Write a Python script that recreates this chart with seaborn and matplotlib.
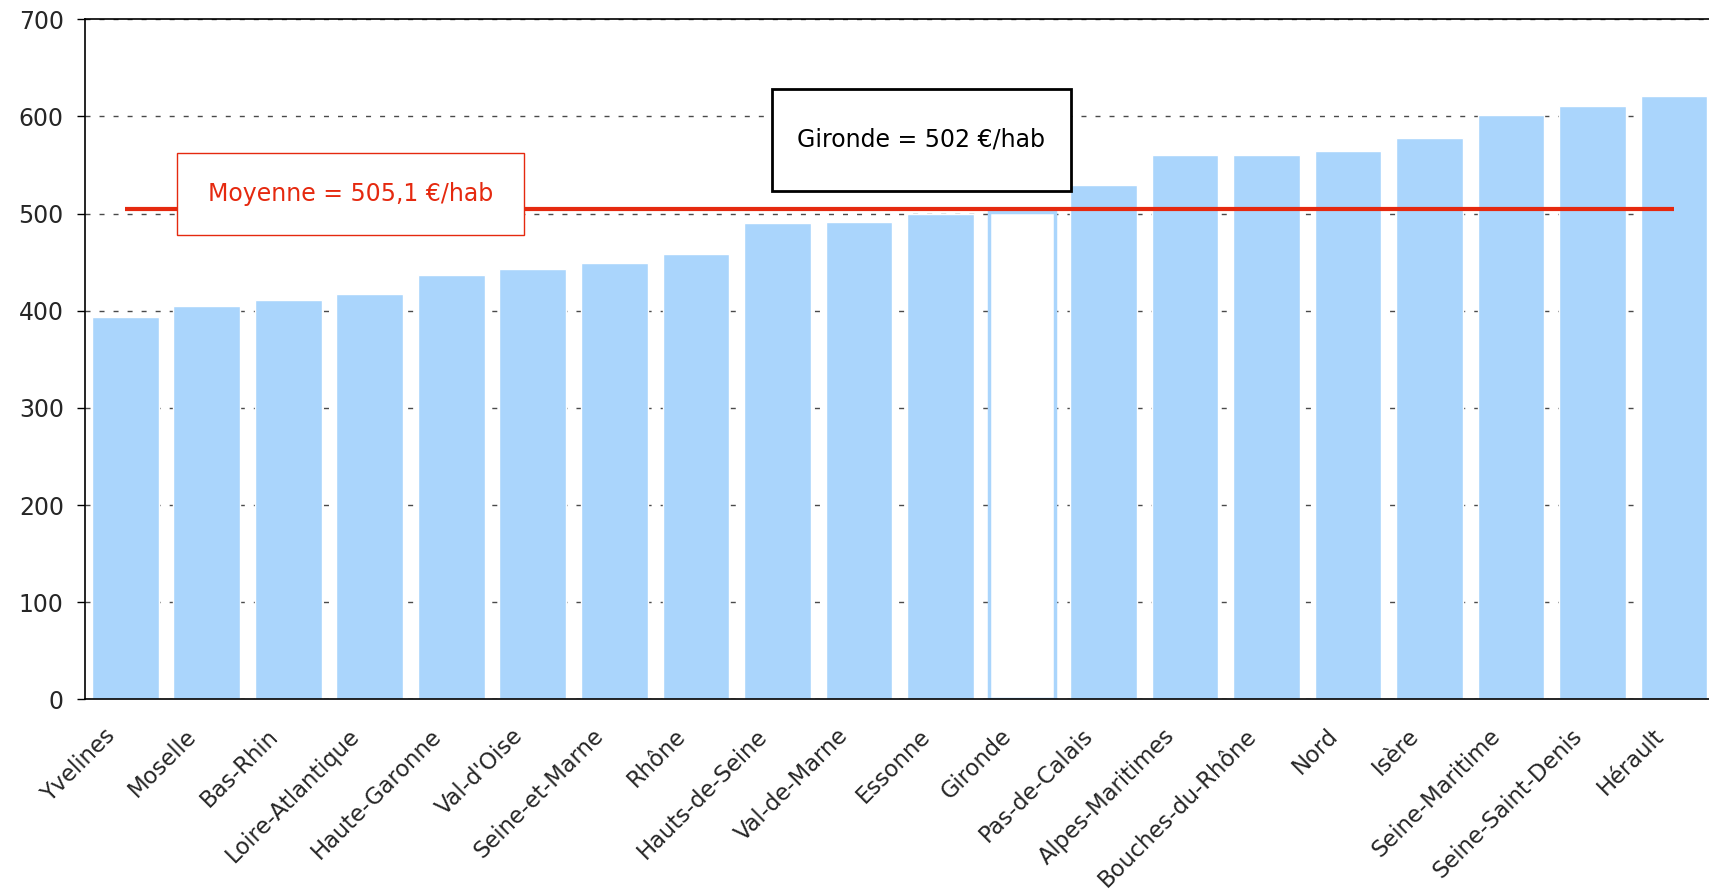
import matplotlib
matplotlib.use("Agg")
import matplotlib.pyplot as plt
import matplotlib.transforms as mtransforms
from matplotlib.patches import Rectangle
import seaborn as sns
import numpy as np

# Dépense par habitant des départements (€/hab), triée par ordre croissant
departements = ["Yvelines", "Moselle", "Bas-Rhin", "Loire-Atlantique", "Haute-Garonne",
                "Val-d'Oise", "Seine-et-Marne", "Rhône", "Hauts-de-Seine", "Val-de-Marne",
                "Essonne", "Gironde", "Pas-de-Calais", "Alpes-Maritimes", "Bouches-du-Rhône",
                "Nord", "Isère", "Seine-Maritime", "Seine-Saint-Denis", "Hérault"]
depense = [394, 405, 411, 417, 437, 443, 449, 458, 490, 491,
           500, 502, 529, 560, 560, 564, 578, 601, 611, 621]
moyenne = 505.1
departement_cible = "Gironde"
y_ticks = [0, 100, 200, 300, 400, 500, 600, 700]

BLEU = "#AAD5FC"
ROUGE = "#E5290F"

sns.set_style("white")
plt.rcParams["font.family"] = ["DejaVu Sans"]

fig = plt.figure(figsize=(17.09, 8.96), dpi=100)
ax = fig.add_axes([0.0495, 0.2195, 0.9539, 0.759])

sns.barplot(x=departements, y=depense, color=BLEU, saturation=1, width=0.82,
            ax=ax, zorder=2)

# Barre du département mis en avant : contour seul
i_cible = departements.index(departement_cible)
barre = ax.patches[i_cible]
barre.set_facecolor("white")
barre.set_edgecolor(BLEU)
barre.set_linewidth(2.5)

# Ligne de la moyenne
ax.plot([0, len(departements) - 1], [moyenne, moyenne], color=ROUGE, lw=3.0, zorder=3,
        solid_capstyle="butt")

ax.set_xlim(-0.5, len(departements) - 0.5)
ax.set_ylim(0, 700)
ax.set_yticks(y_ticks)
ax.yaxis.grid(True, color="#4a4a4a", lw=1.0, linestyle=(0, (3.6, 6.5)), zorder=0)
ax.xaxis.grid(False)
ax.set_axisbelow(True)

# Graduations aux frontières des catégories, étiquettes au centre
ax.set_xticks(np.arange(len(departements)))
ax.set_xticklabels(departements, rotation=45, ha="right", rotation_mode="anchor",
                   fontsize=16.3)
ax.tick_params(axis="x", which="major", length=0, pad=14)
ax.set_xticks(np.arange(len(departements) + 1) - 0.5, minor=True)
ax.tick_params(axis="x", which="minor", length=6, width=1, color="black", direction="out")
ax.tick_params(axis="y", length=6, width=1, color="black", direction="out",
               labelsize=17, pad=9, left=True)

# Décalage des étiquettes inclinées vers la gauche et le bas
decalage = mtransforms.ScaledTranslation(-0.22, -0.055, fig.dpi_scale_trans)
for lbl in ax.get_xticklabels():
    lbl.set_transform(lbl.get_transform() + decalage)

for side in ["left", "bottom", "top"]:
    ax.spines[side].set_visible(True)
    ax.spines[side].set_color("black")
    ax.spines[side].set_linewidth(1.2)
ax.spines["right"].set_visible(False)

# Encadrés d'annotation
def encadre(x0, x1, y0, y1, texte, couleur, lw):
    ax.add_patch(Rectangle((x0, y0), x1 - x0, y1 - y0, facecolor="white",
                           edgecolor=couleur, lw=lw, zorder=5))
    ax.text((x0 + x1) / 2, (y0 + y1) / 2, texte, color=couleur, fontsize=17,
            ha="center", va="center", zorder=6)

texte_moyenne = "Moyenne = " + f"{moyenne:.1f}".replace(".", ",") + " €/hab"
encadre(0.634, 4.89, 477.7, 562.1, texte_moyenne, ROUGE, 1.0)
encadre(7.93, 11.60, 523.6, 628.0, f"{departement_cible} = {depense[i_cible]} €/hab",
        "black", 2.0)

ax.set_xlabel("")
ax.set_ylabel("")
fig.savefig("out.png", dpi=100)
